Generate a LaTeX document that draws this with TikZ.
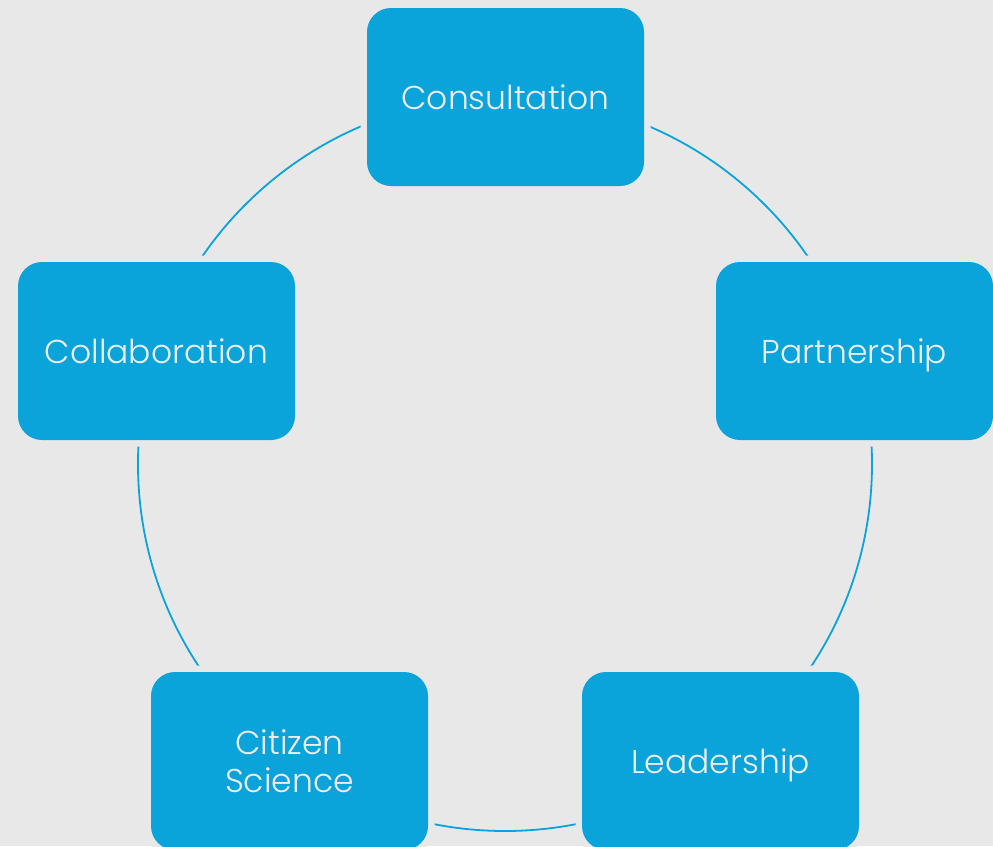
\documentclass[tikz,border=0pt]{standalone}
\usepackage{fontspec}
\setmainfont{Poppins Light}
\definecolor{bg}{HTML}{E8E8E8}
\definecolor{boxblue}{HTML}{0AA3DA}
\definecolor{txt}{HTML}{EEEEEE}
\tikzset{
  stage/.style={rectangle, rounded corners=24pt, fill=boxblue,
    minimum width=277pt, minimum height=178pt, inner sep=0pt,
    text=txt, align=center, font=\fontsize{33}{38}\selectfont,
    text depth=0pt,
    preaction={draw=bg, line width=13pt}},
  ring/.style={draw=boxblue, line width=1.8pt}
}
\begin{document}
\begin{tikzpicture}[x=1pt,y=-1pt]
\fill[bg] (0,0) rectangle (993,846);
\useasboundingbox (0,0) rectangle (993,846);
\coordinate (c) at (505,464);
\draw[ring] (c) circle[radius=367];
\node[stage] (cons) at (505.5,97) {Consultation};
\node[stage] (part) at (854.5,351) {Partnership};
\node[stage] (coll) at (156.5,351) {Collaboration};
\node[stage] (cit) at (289.5,761) {Citizen\\Science};
\node[stage] (lead) at (720.5,761) {Leadership};
\end{tikzpicture}
\end{document}
